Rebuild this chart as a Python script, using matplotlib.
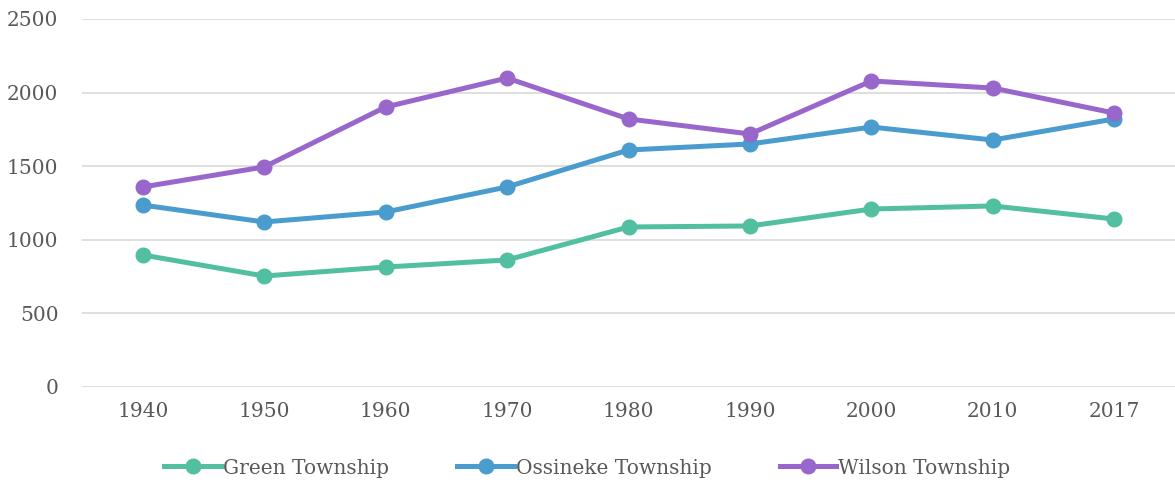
import matplotlib.pyplot as plt
import numpy as np

years = ["1940", "1950", "1960", "1970", "1980", "1990", "2000", "2010", "2017"]
green = [897, 754, 815, 863, 1087, 1094, 1209, 1230, 1141]
ossineke = [1236, 1121, 1189, 1359, 1610, 1651, 1766, 1678, 1821]
wilson = [1359, 1495, 1902, 2099, 1821, 1719, 2079, 2031, 1861]
names = ["Green Township", "Ossineke Township", "Wilson Township"]
colors = ["#52BFA0", "#4A9BCE", "#9966CC"]

plt.rcParams['font.family'] = ['DejaVu Serif']

fig = plt.figure(figsize=(11.75, 4.83), dpi=100)
ax = fig.add_axes([82/1175, 96/483, 1 - 82/1175, (387-19)/483])

x = np.arange(len(years))
for vals, name, c in zip([green, ossineke, wilson], names, colors):
    ax.plot(x, vals, color=c, lw=3.6, marker='o', ms=10.5, label=name)

ax.set_xlim(-0.5, len(years) - 0.5)
ax.set_ylim(0, 2500)
ax.set_yticks(range(0, 2501, 500))
ax.set_xticks(x)
ax.set_xticklabels(years)
ax.grid(axis='y', color='#d9d9d9', lw=1.2)
ax.set_axisbelow(True)
for s in ax.spines.values():
    s.set_visible(False)
ax.tick_params(length=0, labelsize=14.5, colors='#595959')
ax.tick_params(axis='y', pad=17)
ax.tick_params(axis='x', pad=11)

fig.legend(loc='center', bbox_to_anchor=(0.5, 1 - 468/483), ncol=3, frameon=False,
           fontsize=14.5, labelcolor='#595959', handlelength=2.8, handletextpad=0.1,
           columnspacing=3.4)

fig.savefig("out.png", dpi=100)
